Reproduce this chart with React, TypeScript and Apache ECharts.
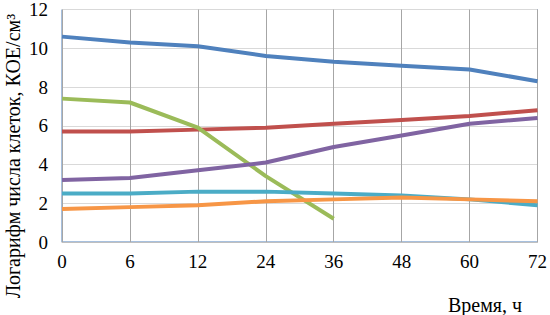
import React, { useEffect, useRef } from "react";
import * as echarts from "echarts";

const categories = ["0", "6", "12", "24", "36", "48", "60", "72"];
const blue = [10.6, 10.3, 10.1, 9.6, 9.3, 9.1, 8.9, 8.3];
const red = [5.7, 5.7, 5.8, 5.9, 6.1, 6.3, 6.5, 6.8];
const green = [7.4, 7.2, 5.9, 3.4, 1.2, null, null, null];
const purple = [3.2, 3.3, 3.7, 4.1, 4.9, 5.5, 6.1, 6.4];
const cyan = [2.5, 2.5, 2.6, 2.6, 2.5, 2.4, 2.2, 1.9];
const orange = [1.7, 1.8, 1.9, 2.1, 2.2, 2.3, 2.2, 2.1];

const yAxisName = "Логарифм числа клеток, КОЕ/см³";
const xAxisName = "Время, ч";

const FONT = "Liberation Serif, DejaVu Serif, serif";

export default function App() {
  const ref = useRef<HTMLDivElement>(null);
  useEffect(() => {
    if (!ref.current) return;
    const chart = echarts.init(ref.current, null, { renderer: "svg" });
    const mk = (name: string, data: (number | null)[], color: string) => ({
      name,
      type: "line",
      data,
      showSymbol: false,
      symbol: "none",
      lineStyle: { width: 4, color },
      itemStyle: { color },
      connectNulls: false,
    });
    chart.setOption({
      animation: false,
      textStyle: { fontFamily: FONT },
      grid: {
        left: 62,
        right: 8,
        top: 6,
        bottom: 73,
        show: true,
        borderColor: "#4f81bd",
        borderWidth: 1,
      },
      xAxis: {
        type: "category",
        data: categories,
        boundaryGap: false,
        axisLine: { lineStyle: { color: "#bfbfbf" } },
        axisTick: { show: false },
        splitLine: { show: true, lineStyle: { color: "#a6a6a6" } },
        axisLabel: { color: "#000", fontFamily: FONT, fontSize: 19, margin: 10 },
      },
      yAxis: {
        type: "value",
        min: 0,
        max: 12,
        interval: 2,
        axisLine: { show: false },
        axisTick: { show: false },
        splitLine: { lineStyle: { color: "#d9d9d9" } },
        axisLabel: { color: "#000", fontFamily: FONT, fontSize: 19, margin: 14 },
      },
      graphic: [
        {
          type: "text",
          x: 13,
          y: 156,
          rotation: Math.PI / 2,
          style: {
            text: yAxisName,
            fontFamily: FONT,
            fontSize: 20,
            fill: "#000",
            align: "center",
            verticalAlign: "middle",
          },
        },
        {
          type: "text",
          x: 485,
          y: 305,
          style: {
            text: xAxisName,
            fontFamily: FONT,
            fontSize: 20,
            fill: "#000",
            align: "center",
            verticalAlign: "middle",
          },
        },
      ],
      series: [
        mk("blue", blue, "#4f81bd"),
        mk("red", red, "#c0504d"),
        mk("green", green, "#9bbb59"),
        mk("purple", purple, "#8064a2"),
        mk("cyan", cyan, "#4bacc6"),
        mk("orange", orange, "#f79646"),
      ],
    });
    return () => chart.dispose();
  }, []);
  return <div ref={ref} style={{ width: 550, height: 315, position: "absolute", left: 0, top: 0 }} />;
}
